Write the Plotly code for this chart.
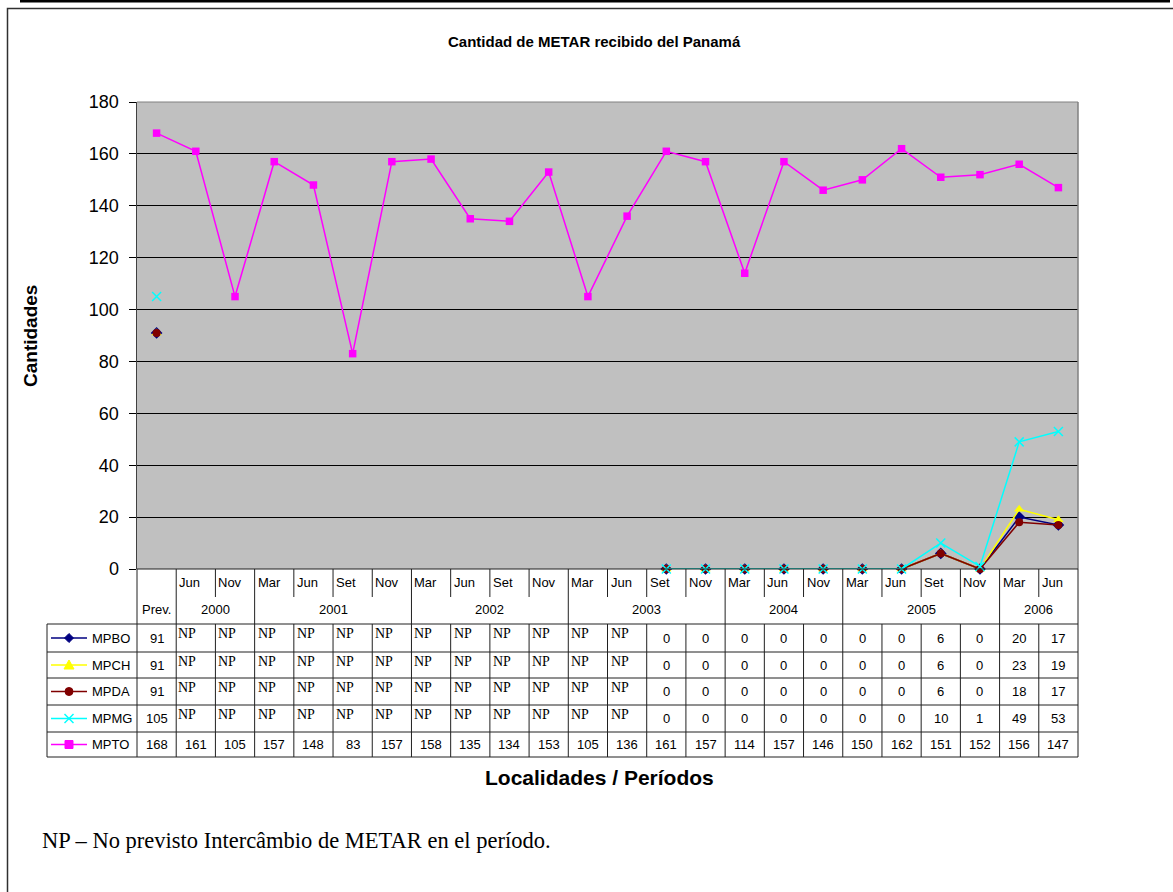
import plotly.graph_objects as go

# ---------------- data ----------------
months = ["Prev.", "Jun", "Nov", "Mar", "Jun", "Set", "Nov", "Mar", "Jun", "Set", "Nov",
          "Mar", "Jun", "Set", "Nov", "Mar", "Jun", "Nov", "Mar", "Jun", "Set", "Nov", "Mar", "Jun"]
years = ["", "2000", "2000", "2001", "2001", "2001", "2001", "2002", "2002", "2002", "2002",
         "2003", "2003", "2003", "2003", "2004", "2004", "2004", "2005", "2005", "2005", "2005",
         "2006", "2006"]
NP = None
mpbo = [91, NP, NP, NP, NP, NP, NP, NP, NP, NP, NP, NP, NP, 0, 0, 0, 0, 0, 0, 0, 6, 0, 20, 17]
mpch = [91, NP, NP, NP, NP, NP, NP, NP, NP, NP, NP, NP, NP, 0, 0, 0, 0, 0, 0, 0, 6, 0, 23, 19]
mpda = [91, NP, NP, NP, NP, NP, NP, NP, NP, NP, NP, NP, NP, 0, 0, 0, 0, 0, 0, 0, 6, 0, 18, 17]
mpmg = [105, NP, NP, NP, NP, NP, NP, NP, NP, NP, NP, NP, NP, 0, 0, 0, 0, 0, 0, 0, 10, 1, 49, 53]
mpto = [168, 161, 105, 157, 148, 83, 157, 158, 135, 134, 153, 105, 136, 161, 157, 114, 157, 146,
        150, 162, 151, 152, 156, 147]
series_names = ["MPBO", "MPCH", "MPDA", "MPMG", "MPTO"]
series_vals = [mpbo, mpch, mpda, mpmg, mpto]

title = "Cantidad de METAR recibido del Panamá"
ytitle = "Cantidades"
xtitle = "Localidades / Períodos"
footer = "NP – No previsto Intercâmbio de METAR en el período."

# ---------------- styles ----------------
styles = [
    dict(color="#000080", symbol="diamond", size=9, lw=0),
    dict(color="#FFFF00", symbol="triangle-up", size=9, lw=0),
    dict(color="#800000", symbol="circle", size=8, lw=0),
    dict(color="#00FFFF", symbol="x-thin", size=9, lw=1.5),
    dict(color="#FF00FF", symbol="square", size=7.5, lw=0),
]

W, H = 1173, 892
L, R, T, B = 137, 1078, 102, 569
n = len(months)
YMAX = 180
SANS = "Arial, Liberation Sans, sans-serif"
SERIF = "Times New Roman, Liberation Serif, serif"


def px(x):
    return (x - L) / (R - L)


def py(y):
    return (B - y) / (B - T)


fig = go.Figure()
x = list(range(n))
for name, vals, st in zip(series_names, series_vals, styles):
    fig.add_trace(go.Scatter(
        x=x, y=vals, name=name, mode="lines+markers", connectgaps=False,
        line=dict(color=st["color"], width=1.5),
        marker=dict(symbol=st["symbol"], size=st["size"], color=st["color"],
                    line=dict(color=st["color"], width=st["lw"])),
        showlegend=False, cliponaxis=False, hoverinfo="skip"))

shapes = []
ann = []
LINEC = "#202020"


def hline(y, x0, x1, color=LINEC, w=1):
    shapes.append(dict(type="line", xref="paper", yref="paper", x0=px(x0), x1=px(x1),
                       y0=py(y), y1=py(y), line=dict(color=color, width=w), layer="above"))


def vline_data(xdv, y0, y1, color=LINEC, w=1):
    shapes.append(dict(type="line", xref="x", yref="paper", x0=xdv, x1=xdv,
                       y0=py(y0), y1=py(y1), line=dict(color=color, width=w), layer="above"))


def vline_pix(xp, y0, y1, color=LINEC, w=1):
    shapes.append(dict(type="line", xref="paper", yref="paper", x0=px(xp), x1=px(xp),
                       y0=py(y0), y1=py(y1), line=dict(color=color, width=w), layer="above"))


def path_pix(points, color, fill=True, w=1):
    d = "M " + " L ".join("%f,%f" % (px(a), py(b)) for a, b in points) + (" Z" if fill else "")
    shapes.append(dict(type="path", xref="paper", yref="paper", path=d,
                       fillcolor=color if fill else "rgba(0,0,0,0)",
                       line=dict(color=color, width=w), layer="above"))


def key_marker(symbol, cx, cy, color):
    if symbol == "diamond":
        s = 4.5
        path_pix([(cx, cy - s), (cx + s, cy), (cx, cy + s), (cx - s, cy)], color)
    elif symbol == "triangle-up":
        s = 5
        path_pix([(cx, cy - s), (cx + s, cy + s * 0.8), (cx - s, cy + s * 0.8)], color)
    elif symbol == "circle":
        r = 4
        shapes.append(dict(type="circle", xref="paper", yref="paper", x0=px(cx - r), x1=px(cx + r),
                           y0=py(cy + r), y1=py(cy - r), fillcolor=color,
                           line=dict(color=color, width=1), layer="above"))
    elif symbol == "x-thin":
        s = 4.5
        path_pix([(cx - s, cy - s), (cx + s, cy + s)], color, fill=False, w=1.5)
        path_pix([(cx - s, cy + s), (cx + s, cy - s)], color, fill=False, w=1.5)
    elif symbol == "square":
        s = 4
        path_pix([(cx - s, cy - s), (cx + s, cy - s), (cx + s, cy + s), (cx - s, cy + s)], color)


# plot border (top & right gray)
hline(T, L, R, color="#808080", w=1)
vline_pix(R, T, B, color="#808080", w=1.5)

# table geometry
TOP = B
MONTH_BOT = 597
HEAD_BOT = 624
rows = [624, 652, 678, 705, 732, 757]
TAB_L = 47

hline(TOP, L, R)
for yv in rows:
    hline(yv, TAB_L, R)
vline_pix(TAB_L, HEAD_BOT, rows[-1])
vline_pix(L, TOP, rows[-1])
vline_pix(R, TOP, rows[-1])
for k in range(1, n):
    if years[k] != years[k - 1]:
        vline_data(k - 0.5, TOP, rows[-1])
    else:
        vline_data(k - 0.5, TOP, MONTH_BOT)
        vline_data(k - 0.5, HEAD_BOT, rows[-1])

# header labels
for i, m in enumerate(months):
    if i == 0:
        ann.append(dict(x=i, y=py(609), xref="x", yref="paper", text=m, showarrow=False,
                        xanchor="center", yanchor="middle", font=dict(family=SANS, size=13, color="black")))
    else:
        ann.append(dict(x=i - 0.5, y=py(582), xref="x", yref="paper", text=m, showarrow=False,
                        xanchor="left", yanchor="middle", xshift=1,
                        font=dict(family=SANS, size=13, color="black")))
# year groups
start = 1
for k in range(2, n + 1):
    if k == n or years[k] != years[start]:
        ann.append(dict(x=(start + k - 1) / 2, y=py(609), xref="x", yref="paper", text=years[start],
                        showarrow=False, xanchor="center", yanchor="middle",
                        font=dict(family=SANS, size=13, color="black")))
        start = k

# data rows
for r, (name, vals, st) in enumerate(zip(series_names, series_vals, styles)):
    y0, y1 = rows[r], rows[r + 1]
    yc = (y0 + y1) / 2
    # legend key
    hline(yc, 51, 87, color=st["color"], w=1.5)
    key_marker(st["symbol"], 69, yc, st["color"])
    ann.append(dict(x=px(90), y=py(yc), xref="paper", yref="paper", text=name, showarrow=False,
                    xanchor="left", yanchor="middle", font=dict(family=SANS, size=13, color="black")))
    for i, v in enumerate(vals):
        if v is None:
            ann.append(dict(x=i - 0.5, y=py(y0 + 9.5), xref="x", yref="paper", text="NP",
                            showarrow=False, xanchor="left", yanchor="middle",
                            xshift=(0 if i == 1 else 1),
                            font=dict(family=SERIF, size=14, color="black")))
        else:
            ann.append(dict(x=i, y=py(yc), xref="x", yref="paper", text=str(v), showarrow=False,
                            xanchor="center", yanchor="middle",
                            font=dict(family=SANS, size=13, color="black")))

# titles
ann.append(dict(x=px(594), y=py(42), xref="paper", yref="paper", text="<b>%s</b>" % title,
                showarrow=False, xanchor="center", yanchor="middle",
                font=dict(family=SANS, size=15, color="black")))
ann.append(dict(x=px(30), y=py(336), xref="paper", yref="paper", text="<b>%s</b>" % ytitle,
                showarrow=False, xanchor="center", yanchor="middle", textangle=-90,
                font=dict(family=SANS, size=19, color="black")))
ann.append(dict(x=px(599), y=py(777), xref="paper", yref="paper", text="<b>%s</b>" % xtitle,
                showarrow=False, xanchor="center", yanchor="middle",
                font=dict(family=SANS, size=21, color="black")))
ann.append(dict(x=px(40), y=py(840), xref="paper", yref="paper", text=footer,
                showarrow=False, xanchor="left", yanchor="middle",
                font=dict(family=SERIF, size=22.5, color="black")))

# outer frame and top rule
shapes.append(dict(type="rect", xref="paper", yref="paper", x0=px(7.5), x1=px(1190),
                   y0=py(8.5), y1=py(910), line=dict(color="#303030", width=1.5),
                   fillcolor="rgba(0,0,0,0)", layer="above"))
shapes.append(dict(type="line", xref="paper", yref="paper", x0=px(20), x1=px(1170),
                   y0=py(1.2), y1=py(1.2), line=dict(color="black", width=2.5), layer="above"))

fig.update_layout(
    width=W, height=H, autosize=False,
    margin=dict(l=L, r=W - R, t=T, b=H - B, pad=0),
    paper_bgcolor="white", plot_bgcolor="#C0C0C0",
    shapes=shapes, annotations=ann, hovermode=False,
    xaxis=dict(range=[-0.5, n - 0.5], showticklabels=False, showgrid=False, zeroline=False,
               ticks="", showline=False, fixedrange=True),
    yaxis=dict(range=[0, YMAX], dtick=20, tick0=0, showgrid=True, gridcolor="black", gridwidth=1,
               zeroline=False, ticks="outside", ticklen=7, tickcolor="black", tickwidth=1,
               showline=True, linecolor="#404040", linewidth=1.5,
               tickfont=dict(family=SANS, size=18, color="black"), ticklabelstandoff=6,
               fixedrange=True),
)

fig.write_html("out.html", config={"displayModeBar": False, "staticPlot": True},
               post_script="document.body.style.margin='0';document.body.style.overflow='hidden';")
